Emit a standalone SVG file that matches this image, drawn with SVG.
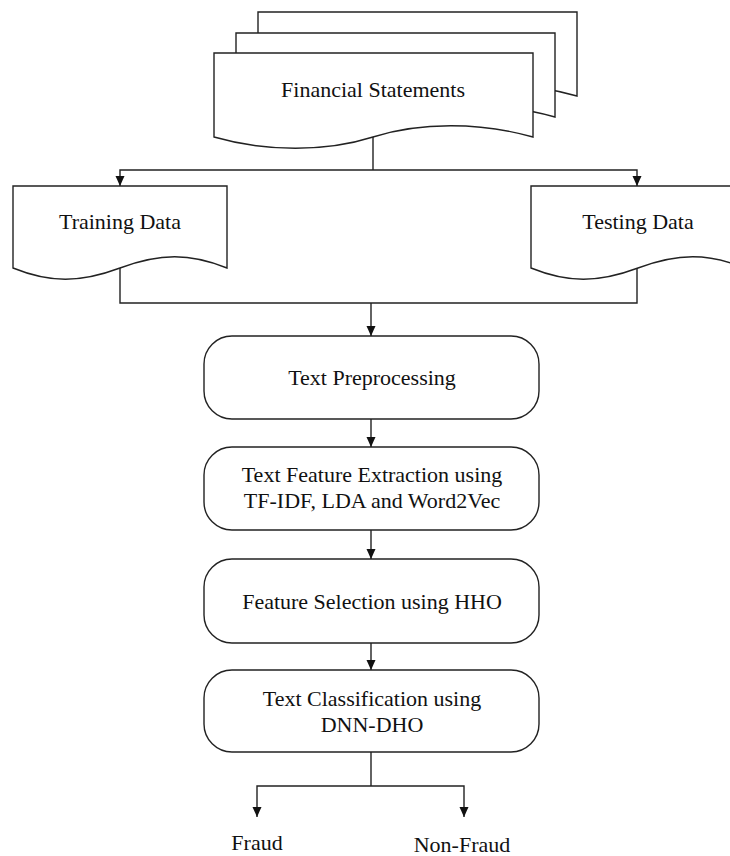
<svg xmlns="http://www.w3.org/2000/svg" width="730" height="856" viewBox="0 0 730 856">
<defs>
<marker id="arr" viewBox="0 0 10 10" refX="10" refY="5" markerWidth="10" markerHeight="10" markerUnits="userSpaceOnUse" orient="auto">
<path d="M0,0.5 L10,5 L0,9.5 Z" fill="#111"/>
</marker>
<path id="docshape" d="M0,0 H319 V84 C266,69 206,69 159,84 C112,99 52,99 0,84 Z"/>
</defs>
<style>
.shape{fill:#fff;stroke:#222;stroke-width:1.4}
.line{fill:none;stroke:#222;stroke-width:1.4}
text{font-family:"Liberation Serif","Times New Roman",serif;font-size:22px;fill:#111;text-anchor:middle}
</style>
<rect width="730" height="856" fill="#fff"/>
<g id="financial-statements">
<use href="#docshape" class="shape" transform="translate(258,12)"/>
<use href="#docshape" class="shape" transform="translate(236,33)"/>
<use href="#docshape" class="shape" transform="translate(214,53)"/>
<text x="373" y="97">Financial Statements</text>
</g>
<g id="training-data">
<path class="shape" d="M13,186 H227 V268 C190,253 160,253 120,268 C80,283 50,283 13,268 Z"/>
<text x="120" y="229">Training Data</text>
</g>
<g id="testing-data">
<path class="shape" d="M531,186 H745 V268 C708,253 678,253 638,268 C598,283 568,283 531,268 Z"/>
<text x="638" y="229">Testing Data</text>
</g>
<g id="text-preprocessing">
<rect class="shape" x="204" y="336" width="335" height="83" rx="28" ry="28"/>
<text x="372" y="385">Text Preprocessing</text>
</g>
<g id="feature-extraction">
<rect class="shape" x="204" y="447" width="335" height="83" rx="28" ry="28"/>
<text x="372" y="482">Text Feature Extraction using</text>
<text x="372" y="508">TF-IDF, LDA and Word2Vec</text>
</g>
<g id="feature-selection">
<rect class="shape" x="204" y="559" width="335" height="84" rx="28" ry="28"/>
<text x="372" y="609">Feature Selection using HHO</text>
</g>
<g id="text-classification">
<rect class="shape" x="204" y="670" width="335" height="82" rx="28" ry="28"/>
<text x="372" y="706">Text Classification using</text>
<text x="372" y="732">DNN-DHO</text>
</g>
<g id="fraud"><text x="257" y="850">Fraud</text></g>
<g id="non-fraud"><text x="462" y="852">Non-Fraud</text></g>
<g id="connectors">
<path class="line" d="M373,137 V170"/>
<path class="line" d="M373,170 H120 V186" marker-end="url(#arr)"/>
<path class="line" d="M373,170 H637 V186" marker-end="url(#arr)"/>
<path class="line" d="M120,268 V303 H637 V268"/>
<path class="line" d="M371,303 V336" marker-end="url(#arr)"/>
<path class="line" d="M371,419 V447" marker-end="url(#arr)"/>
<path class="line" d="M371,530 V559" marker-end="url(#arr)"/>
<path class="line" d="M371,643 V670" marker-end="url(#arr)"/>
<path class="line" d="M371,752 V786"/>
<path class="line" d="M371,786 H257 V817" marker-end="url(#arr)"/>
<path class="line" d="M371,786 H464 V817" marker-end="url(#arr)"/>
</g>
</svg>
